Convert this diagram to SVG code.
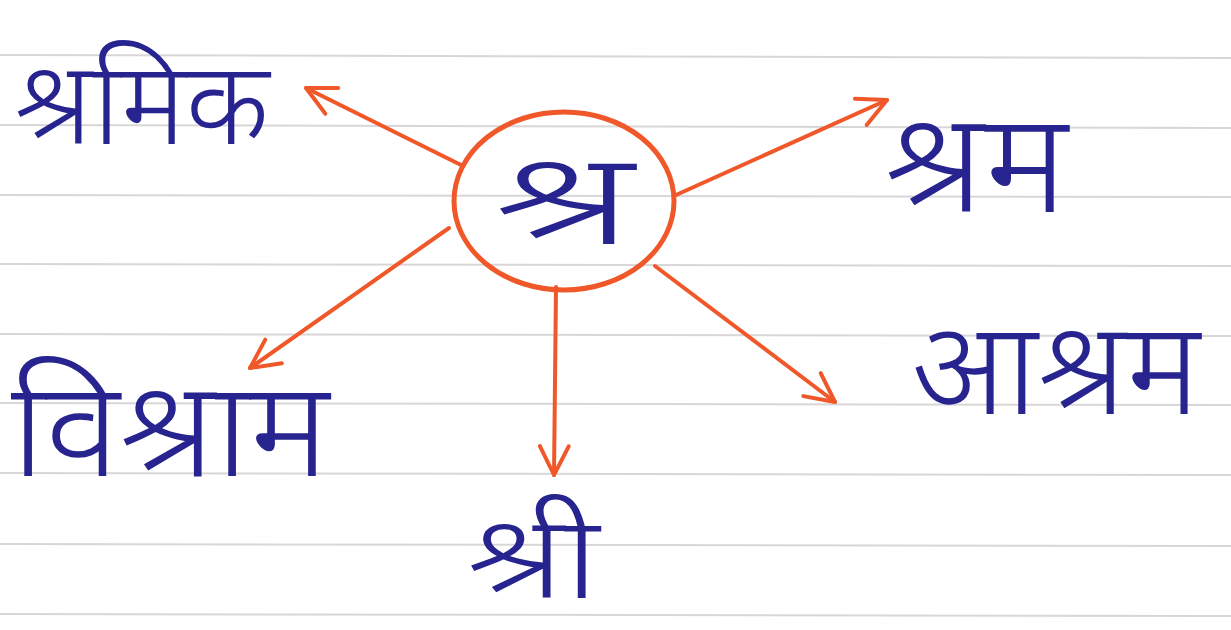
<svg xmlns="http://www.w3.org/2000/svg" width="1231" height="630" viewBox="0 0 1231 630">
<defs>
<style>
.rule{stroke:#d9d6d8;stroke-width:2}
.word{fill:#27248f;font-family:"Noto Sans","Noto Sans Devanagari","Lohit Devanagari","FreeSans",sans-serif;text-anchor:middle;font-weight:300}
.conn{stroke:#f0582a;stroke-width:4;fill:none;stroke-linecap:round;stroke-linejoin:round}
</style>
<marker id="ah" viewBox="0 0 20 20" refX="18" refY="10" markerWidth="9" markerHeight="9" orient="auto" markerUnits="strokeWidth">
<path d="M2,2 L18,10 L2,18" fill="none" stroke="#f0582a" stroke-width="2.2" stroke-linecap="round" stroke-linejoin="round"/>
</marker>
</defs>
<rect width="1231" height="630" fill="#ffffff"/>
<g id="ruled-lines">
<line class="rule" x1="0" y1="55" x2="1231" y2="58"/>
<line class="rule" x1="0" y1="125" x2="1231" y2="128"/>
<line class="rule" x1="0" y1="195" x2="1231" y2="197"/>
<line class="rule" x1="0" y1="264" x2="1231" y2="266"/>
<line class="rule" x1="0" y1="334" x2="1231" y2="336"/>
<line class="rule" x1="0" y1="403" x2="1231" y2="405"/>
<line class="rule" x1="0" y1="473" x2="1231" y2="475"/>
<line class="rule" x1="0" y1="544" x2="1231" y2="546"/>
<line class="rule" x1="0" y1="614" x2="1231" y2="616"/>
</g>
<g id="connectors">
<line class="conn" x1="463" y1="166" x2="306" y2="88" marker-end="url(#ah)"/>
<line class="conn" x1="676" y1="195" x2="887" y2="100" marker-end="url(#ah)"/>
<line class="conn" x1="449" y1="228" x2="250" y2="368" marker-end="url(#ah)"/>
<line class="conn" x1="556" y1="287" x2="554" y2="475" marker-end="url(#ah)"/>
<line class="conn" x1="655" y1="266" x2="835" y2="402" marker-end="url(#ah)"/>
</g>
<g id="center">
<ellipse cx="564" cy="201" rx="110" ry="89" fill="none" stroke="#f0582a" stroke-width="5"/>
<text class="word" x="564" y="244" font-size="128" textLength="140" lengthAdjust="spacingAndGlyphs">श्र</text>
</g>
<g id="shramik"><text class="word" x="142" y="144" font-size="116" textLength="255" lengthAdjust="spacingAndGlyphs">श्रमिक</text></g>
<g id="shram"><text class="word" x="976" y="212" font-size="140" textLength="183" lengthAdjust="spacingAndGlyphs">श्रम</text></g>
<g id="ashram"><text class="word" x="1056" y="414" font-size="130" textLength="288" lengthAdjust="spacingAndGlyphs">आश्रम</text></g>
<g id="vishram"><text class="word" x="170" y="476" font-size="134" textLength="318" lengthAdjust="spacingAndGlyphs">विश्राम</text></g>
<g id="shri"><text class="word" x="533" y="598" font-size="116" textLength="132" lengthAdjust="spacingAndGlyphs">श्री</text></g>
</svg>
